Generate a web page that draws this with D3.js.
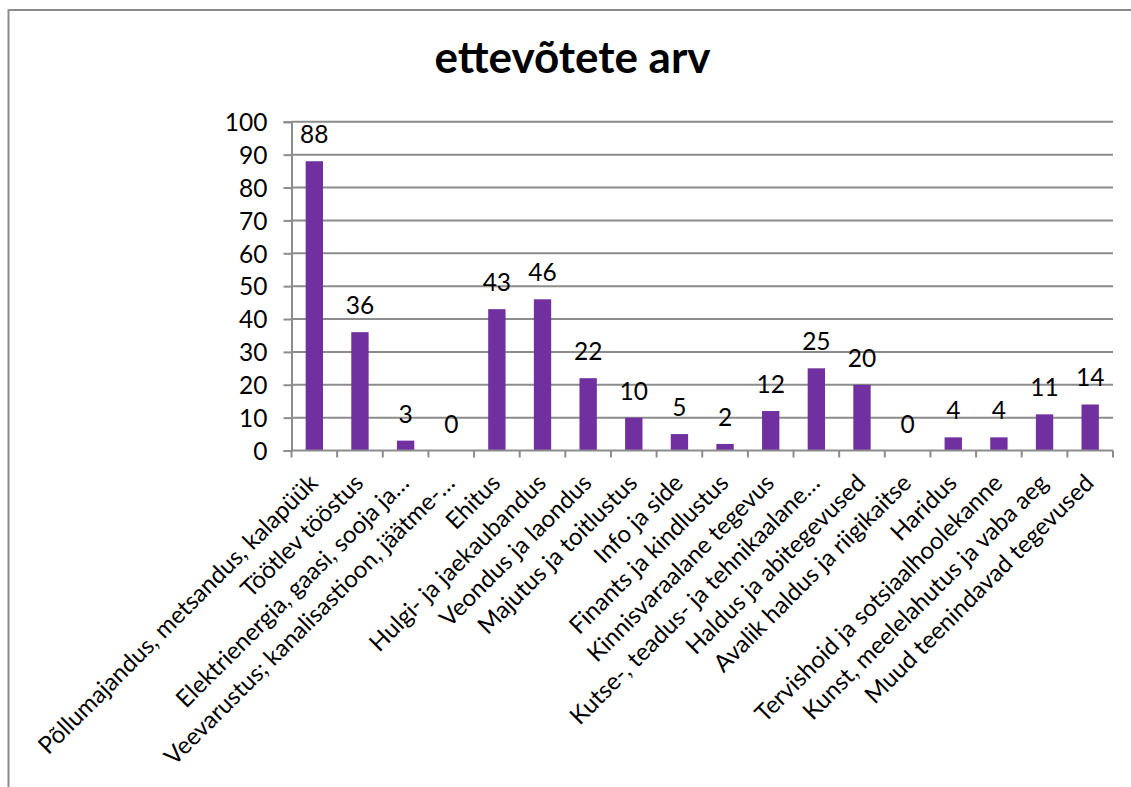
<!DOCTYPE html>
<html><head><meta charset="utf-8">
<script src="https://cdn.jsdelivr.net/npm/d3@7"></script>
<style>body{margin:0;background:#fff;} svg{display:block;}</style>
</head><body>
<svg id="c" width="1131" height="787"></svg>
<script>
const categories = [
  "Põllumajandus, metsandus, kalapüük",
  "Töötlev tööstus",
  "Elektrienergia, gaasi, sooja ja…",
  "Veevarustus; kanalisastioon, jäätme-…",
  "Ehitus",
  "Hulgi- ja jaekaubandus",
  "Veondus ja laondus",
  "Majutus ja toitlustus",
  "Info ja side",
  "Finants ja kindlustus",
  "Kinnisvaraalane tegevus",
  "Kutse-, teadus- ja tehnikaalane…",
  "Haldus ja abitegevused",
  "Avalik haldus ja riigikaitse",
  "Haridus",
  "Tervishoid ja sotsiaalhoolekanne",
  "Kunst, meelelahutus ja vaba aeg",
  "Muud teenindavad tegevused"
];
const values = [88, 36, 3, 0, 43, 46, 22, 10, 5, 2, 12, 25, 20, 0, 4, 4, 11, 14];
const yTicks = [0, 10, 20, 30, 40, 50, 60, 70, 80, 90, 100];
const title = "ettevõtete arv";

(function () {
const svg = d3.select("#c");
const font = "Lato, 'Open Sans', sans-serif";
const pl = 291.5, pr = 1113, pt = 121.8, pb = 450.5;

svg.append("rect").attr("x", 8.5).attr("y", 10).attr("width", 1300).attr("height", 900)
  .attr("fill", "none").attr("stroke", "#8c8c8c").attr("stroke-width", 2);

const x = d3.scaleBand().domain(categories).range([pl, pr]).paddingInner(0.62).paddingOuter(0.31);
const band = d3.scaleBand().domain(categories).range([pl, pr]).padding(0);
const y = d3.scaleLinear().domain([0, 100]).range([pb, pt]);

svg.append("g").selectAll("line").data(yTicks.filter(d => d > 0)).join("line")
  .attr("x1", pl).attr("x2", pr).attr("y1", d => y(d)).attr("y2", d => y(d))
  .attr("stroke", "#8c8c8c").attr("stroke-width", 2);

const ya = svg.append("g").attr("transform", `translate(${pl},0)`)
  .call(d3.axisLeft(y).tickValues(yTicks).tickSize(8).tickPadding(16));
ya.select(".domain").attr("stroke", "#8c8c8c").attr("stroke-width", 2);
ya.selectAll(".tick line").attr("stroke", "#8c8c8c").attr("stroke-width", 2);
ya.selectAll("text").attr("font-family", font).attr("font-size", 24.5).attr("fill", "#000").attr("dy", "0.36em");

svg.append("g").selectAll("rect").data(values).join("rect")
  .attr("x", (d, i) => x(categories[i])).attr("width", x.bandwidth())
  .attr("y", d => y(d)).attr("height", d => y(0) - y(d))
  .attr("fill", "#7030A0");

svg.append("g").selectAll("text").data(values).join("text")
  .attr("x", (d, i) => x(categories[i]) + x.bandwidth() / 2)
  .attr("y", d => y(d) - 18)
  .attr("text-anchor", "middle").attr("font-family", font).attr("font-size", 24.5).attr("fill", "#000")
  .text(d => d);

const xa = svg.append("g");
xa.append("line").attr("x1", pl).attr("x2", pr).attr("y1", pb).attr("y2", pb)
  .attr("stroke", "#8c8c8c").attr("stroke-width", 2);
const bounds = categories.map(c => band(c)).concat([pr]);
xa.selectAll("line.t").data(bounds).join("line").attr("class", "t")
  .attr("x1", d => d).attr("x2", d => d).attr("y1", pb).attr("y2", pb + 7)
  .attr("stroke", "#8c8c8c").attr("stroke-width", 2);

svg.append("g").selectAll("text").data(categories).join("text")
  .attr("transform", d => `translate(${band(d) + band.bandwidth() / 2 + 5},${pb + 34}) rotate(-45)`)
  .attr("text-anchor", "end").attr("font-family", font).attr("font-size", 24).attr("fill", "#000")
  .text(d => d);

svg.append("text").attr("x", 572.5).attr("y", 73).attr("text-anchor", "middle")
  .attr("font-family", font).attr("font-weight", "bold").attr("font-size", 44).attr("fill", "#000")
  .text(title);
})();
</script>
</body></html>
